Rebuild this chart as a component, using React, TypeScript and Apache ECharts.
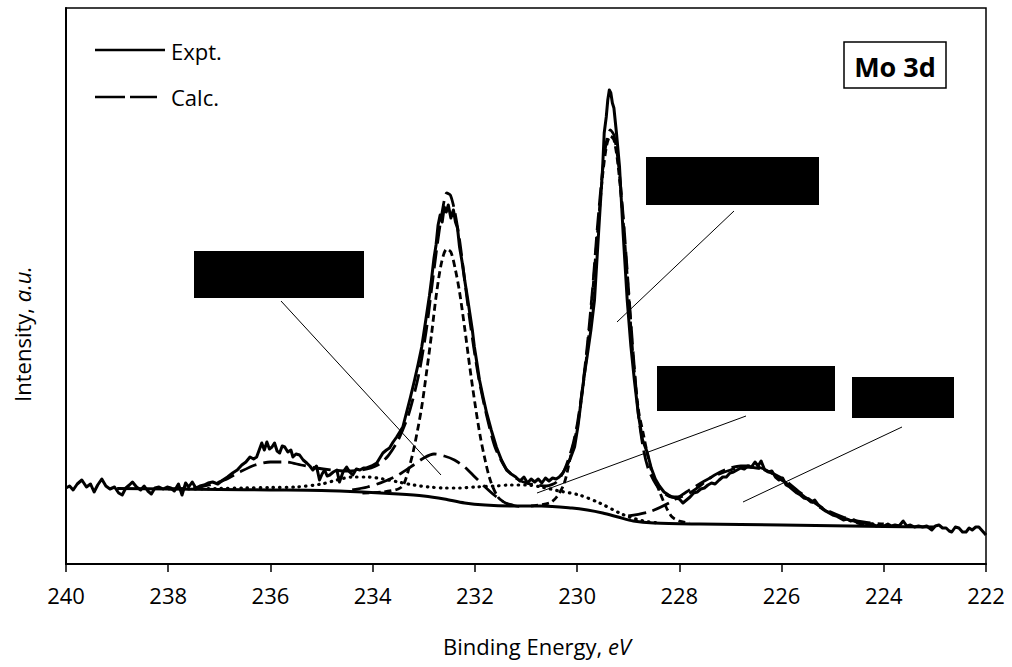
import React, { useEffect, useRef } from "react";
import * as echarts from "echarts";

// Binding energy (eV) / intensity (a.u.) pairs
const exptData: number[][] = [
  [240.0, 76], [239.93, 78], [239.86, 74], [239.78, 80], [239.69, 84], [239.6, 77], [239.52, 80], [239.45, 72],
  [239.38, 79], [239.3, 85], [239.22, 78], [239.14, 75], [239.05, 77], [238.97, 71], [238.9, 69], [238.83, 76],
  [238.76, 79], [238.7, 82], [238.62, 77], [238.54, 74], [238.47, 78], [238.4, 73], [238.33, 70], [238.26, 76],
  [238.18, 77], [238.1, 75], [238.02, 77], [237.95, 76], [237.88, 73], [237.8, 80], [237.73, 69], [237.66, 81],
  [237.6, 77], [237.53, 82], [237.46, 76], [237.38, 78], [237.3, 79], [237.22, 81], [237.13, 82], [237.03, 80],
  [236.93, 84], [236.84, 87], [236.74, 91], [236.65, 94], [236.56, 99], [236.48, 102], [236.4, 107], [236.33, 105],
  [236.27, 107], [236.17, 121], [236.12, 114], [236.07, 122], [236.02, 115], [235.97, 117], [235.92, 121], [235.87, 113],
  [235.82, 111], [235.77, 118], [235.72, 117], [235.66, 112], [235.6, 114], [235.56, 107], [235.5, 110], [235.43, 109],
  [235.36, 104], [235.29, 101], [235.23, 98], [235.17, 94], [235.1, 98], [235.04, 84], [234.99, 90], [234.94, 94],
  [234.89, 88], [234.84, 89], [234.77, 92], [234.7, 94], [234.65, 82], [234.58, 92], [234.51, 97], [234.45, 92],
  [234.39, 89], [234.32, 95], [234.25, 94], [234.18, 96], [234.12, 96], [234.02, 98], [233.92, 101], [233.86, 106],
  [233.8, 111], [233.73, 114], [233.67, 116], [233.6, 122], [233.53, 127], [233.47, 132], [233.41, 137], [233.34, 151],
  [233.26, 167], [233.18, 184], [233.11, 200], [233.04, 217], [232.99, 234], [232.94, 251], [232.89, 268], [232.85, 284],
  [232.8, 306], [232.76, 319], [232.72, 339], [232.68, 349], [232.64, 342], [232.6, 357], [232.56, 352], [232.52, 359],
  [232.47, 346], [232.42, 354], [232.38, 342], [232.34, 336], [232.3, 317], [232.25, 302], [232.2, 284], [232.15, 268],
  [232.1, 251], [232.05, 234], [232.01, 217], [231.96, 201], [231.91, 184], [231.84, 167], [231.77, 151], [231.68, 134],
  [231.58, 117], [231.48, 104], [231.38, 94], [231.29, 90], [231.2, 87], [231.12, 83], [231.04, 87], [230.97, 81],
  [230.9, 85], [230.83, 82], [230.76, 85], [230.69, 81], [230.62, 86], [230.55, 83], [230.48, 86], [230.41, 85],
  [230.35, 87], [230.28, 91], [230.21, 97], [230.13, 106], [230.05, 117], [229.98, 139], [229.92, 164], [229.86, 189],
  [229.8, 209], [229.73, 234], [229.66, 264], [229.58, 331], [229.5, 397], [229.47, 431], [229.43, 447], [229.4, 464],
  [229.37, 474], [229.34, 471], [229.31, 461], [229.28, 456], [229.23, 431], [229.17, 397], [229.1, 331], [229.02, 264],
  [228.95, 219], [228.88, 184], [228.8, 149], [228.72, 124], [228.63, 112], [228.55, 96], [228.47, 85], [228.39, 78],
  [228.3, 72], [228.21, 69], [228.14, 67], [228.07, 66], [228.0, 65], [227.93, 61], [227.86, 64], [227.79, 67],
  [227.72, 71], [227.65, 72], [227.58, 75], [227.51, 76], [227.44, 79], [227.37, 81], [227.3, 80], [227.22, 84],
  [227.15, 87], [227.08, 87], [227.01, 91], [226.94, 92], [226.87, 94], [226.8, 96], [226.73, 95], [226.66, 98],
  [226.59, 97], [226.52, 102], [226.46, 98], [226.4, 103], [226.33, 94], [226.26, 92], [226.19, 93], [226.12, 87],
  [226.05, 84], [225.98, 86], [225.91, 79], [225.84, 77], [225.77, 74], [225.7, 71], [225.63, 69], [225.56, 66],
  [225.49, 65], [225.42, 62], [225.35, 64], [225.28, 59], [225.21, 56], [225.14, 53], [225.07, 51], [225.0, 49],
  [224.93, 48], [224.86, 46], [224.79, 44], [224.72, 45], [224.65, 43], [224.58, 44], [224.51, 41], [224.44, 40],
  [224.37, 41], [224.3, 39], [224.22, 40], [224.15, 38], [224.08, 39], [224.0, 38], [223.92, 40], [223.85, 38],
  [223.78, 39], [223.7, 38], [223.62, 43], [223.55, 38], [223.48, 39], [223.4, 37], [223.32, 38], [223.24, 37],
  [223.16, 38], [223.06, 34], [222.99, 38], [222.92, 39], [222.85, 36], [222.78, 36], [222.72, 33], [222.67, 32],
  [222.6, 37], [222.53, 36], [222.46, 32], [222.39, 32], [222.33, 36], [222.27, 34], [222.2, 37], [222.14, 37],
  [222.07, 33], [222.0, 29],
];

const calcData: number[][] = [
  [238.0, 75], [237.5, 76], [237.2, 79], [236.9, 84], [236.6, 92], [236.3, 99], [236.0, 102], [235.7, 102],
  [235.4, 99], [235.1, 96], [234.8, 94], [234.5, 93], [234.2, 94], [233.9, 99], [233.7, 108], [233.5, 124],
  [233.3, 149], [233.1, 189], [232.95, 234], [232.85, 274], [232.75, 314], [232.65, 349], [232.55, 371], [232.48, 369],
  [232.4, 354], [232.3, 324], [232.2, 284], [232.1, 244], [232.0, 209], [231.9, 179], [231.75, 144], [231.6, 116],
  [231.4, 96], [231.2, 86], [231.0, 81], [230.8, 79], [230.6, 78], [230.4, 82], [230.25, 94], [230.1, 116],
  [230.0, 139], [229.9, 174], [229.8, 219], [229.7, 274], [229.6, 339], [229.5, 394], [229.42, 424], [229.35, 434],
  [229.28, 429], [229.2, 404], [229.1, 349], [229.0, 279], [228.9, 209], [228.8, 149], [228.7, 114], [228.6, 94],
  [228.45, 79], [228.3, 71], [228.15, 67], [228.0, 67], [227.8, 71], [227.6, 78], [227.4, 86], [227.2, 92],
  [227.0, 96], [226.8, 98], [226.6, 98], [226.4, 96], [226.2, 91], [226.0, 84], [225.8, 77], [225.6, 69],
  [225.4, 62], [225.2, 55], [225.0, 50], [224.8, 46], [224.6, 43], [224.4, 41], [224.2, 40],
];

const backgroundData: number[][] = [
  [239.0, 75.5], [238.0, 75], [237.0, 74.5], [236.0, 74], [235.0, 73.5], [234.2, 72], [233.5, 70], [233.0, 68],
  [232.6, 65], [232.2, 61], [231.8, 59], [231.2, 58], [230.7, 58], [230.1, 56], [229.8, 54], [229.5, 51],
  [229.2, 47], [228.9, 43], [228.5, 41], [227.6, 40], [226.0, 39], [224.0, 37.5], [223.0, 37],
];

const peakA: number[][] = [
  [234.2, 71], [233.8, 72], [233.5, 75], [233.4, 79], [233.3, 94], [233.2, 114], [233.05, 154], [232.94, 194],
  [232.85, 229], [232.75, 271], [232.65, 302], [232.55, 315], [232.47, 312], [232.38, 294], [232.3, 272], [232.2, 236],
  [232.1, 197], [232.0, 161], [231.9, 129], [231.8, 104], [231.7, 84], [231.55, 67], [231.4, 61], [231.2, 58],
];

const peakB: number[][] = [
  [230.9, 58], [230.54, 61], [230.4, 67], [230.25, 81], [230.11, 112], [230.0, 136], [229.9, 172], [229.8, 214],
  [229.7, 269], [229.6, 332], [229.5, 389], [229.42, 419], [229.35, 428], [229.28, 424], [229.2, 399], [229.1, 344],
  [229.0, 274], [228.9, 204], [228.8, 154], [228.7, 129], [228.62, 109], [228.53, 91], [228.4, 74], [228.26, 57],
  [228.14, 47], [228.0, 43], [227.8, 41],
];

const broadC: number[][] = [
  [234.4, 74], [234.1, 77], [233.8, 82], [233.5, 89], [233.2, 99], [233.0, 106], [232.8, 110], [232.6, 108],
  [232.4, 104], [232.2, 97], [232.0, 87], [231.8, 77], [231.6, 68], [231.4, 61], [231.2, 58], [231.0, 57],
];

const broadD: number[][] = [
  [229.0, 48], [228.6, 52], [228.2, 61], [227.8, 74], [227.4, 86], [227.0, 94], [226.7, 97], [226.4, 95],
  [226.0, 86], [225.6, 70], [225.2, 56], [224.8, 47], [224.4, 42], [224.0, 40],
];

const dottedE: number[][] = [
  [237.6, 75], [237.0, 75.5], [236.5, 76], [236.0, 76.5], [235.5, 77], [235.0, 80], [234.7, 84], [234.4, 87],
  [234.1, 87], [233.8, 85], [233.5, 82], [233.2, 79], [232.9, 77], [232.6, 76], [232.3, 76], [232.0, 77],
  [231.6, 78], [231.3, 79], [231.0, 79], [230.7, 77], [230.35, 73], [229.96, 69], [229.56, 61], [229.17, 51],
  [228.98, 47], [228.7, 43], [228.4, 41],
];

const xMin = 222;
const xMax = 240;
const xInterval = 2;
const legendLabels = ["Expt.", "Calc."];
const panelLabel = "Mo 3d";

const FONT = "'Open Sans', 'Liberation Sans', sans-serif";

export default function App() {
  const ref = useRef<HTMLDivElement>(null);
  useEffect(() => {
    if (!ref.current) return;
    const chart = echarts.init(ref.current, undefined, { renderer: "svg" });
    const black = "#000";
    const mk = (name: string, data: number[][], type: any, width: number, z: number, smooth: number | boolean, cap: any = "butt") => ({
      name,
      type: "line",
      data,
      showSymbol: false,
      symbol: "none",
      smooth,
      z,
      lineStyle: { color: black, width, type, cap, join: "round" },
      silent: true,
    });
    chart.setOption({
      animation: false,
      textStyle: { fontFamily: FONT },
      grid: { left: 66, right: 26, top: 8, bottom: 103, show: true, borderColor: black, borderWidth: 1.5, backgroundColor: "transparent" },
      xAxis: {
        type: "value",
        min: xMin,
        max: xMax,
        interval: xInterval,
        inverse: true,
        axisLine: { show: true, lineStyle: { color: black, width: 2 } },
        axisTick: { show: true, inside: false, length: 8, lineStyle: { color: black, width: 1.5 } },
        axisLabel: { color: black, fontSize: 22, fontFamily: FONT, margin: 20 },
        splitLine: { show: false },
      },
      yAxis: {
        type: "value",
        min: 0,
        max: 556,
        axisLine: { show: true, lineStyle: { color: black, width: 2 } },
        axisTick: { show: false },
        axisLabel: { show: false },
        splitLine: { show: false },
      },
      series: [
        mk("Background", backgroundData, "solid", 3, 2, 0.3),
        mk("Peak A", peakA, [7, 4], 2.8, 3, 0.3),
        mk("Peak B", peakB, [7, 4], 2.8, 3, 0.3),
        mk("Broad C", broadC, [18, 7], 2.8, 3, 0.3),
        mk("Broad D", broadD, [18, 7], 2.8, 3, 0.3),
        mk("Dotted", dottedE, [0.5, 6], 3.2, 3, 0.3, "round"),
        mk("Calc.", calcData, [18, 7], 2.8, 4, 0.25),
        mk("Expt.", exptData, "solid", 3, 5, false),
      ],
      graphic: [
        // legend
        { type: "line", shape: { x1: 95, y1: 50, x2: 165, y2: 50 }, style: { stroke: black, lineWidth: 2.5 }, z: 10 },
        { type: "text", x: 171, y: 51, style: { text: legendLabels[0], font: `22px ${FONT}`, fill: black, verticalAlign: "middle" }, z: 10 },
        { type: "line", shape: { x1: 95, y1: 97, x2: 157, y2: 97 }, style: { stroke: black, lineWidth: 2.5, lineDash: [30, 5] }, z: 10 },
        { type: "text", x: 171, y: 97, style: { text: legendLabels[1], font: `22px ${FONT}`, fill: black, verticalAlign: "middle" }, z: 10 },
        // panel label
        { type: "rect", shape: { x: 844, y: 42, width: 102, height: 46 }, style: { fill: "#fff", stroke: black, lineWidth: 1.5 }, z: 10 },
        { type: "text", x: 895, y: 66, style: { text: panelLabel, font: `bold 27px ${FONT}`, fill: black, align: "center", verticalAlign: "middle" }, z: 11 },
        // redacted label boxes
        { type: "rect", shape: { x: 194, y: 251, width: 170, height: 47 }, style: { fill: black }, z: 10 },
        { type: "rect", shape: { x: 646, y: 157, width: 173, height: 48 }, style: { fill: black }, z: 10 },
        { type: "rect", shape: { x: 657, y: 366, width: 178, height: 45 }, style: { fill: black }, z: 10 },
        { type: "rect", shape: { x: 852, y: 377, width: 102, height: 41 }, style: { fill: black }, z: 10 },
        // leader lines
        { type: "line", shape: { x1: 281, y1: 301, x2: 441, y2: 475 }, style: { stroke: black, lineWidth: 1 }, z: 10 },
        { type: "line", shape: { x1: 734, y1: 211, x2: 617, y2: 322 }, style: { stroke: black, lineWidth: 1 }, z: 10 },
        { type: "line", shape: { x1: 746, y1: 416, x2: 537, y2: 493 }, style: { stroke: black, lineWidth: 1 }, z: 10 },
        { type: "line", shape: { x1: 902, y1: 427, x2: 743, y2: 502 }, style: { stroke: black, lineWidth: 1 }, z: 10 },
        // axis titles
        {
          type: "text", x: 537, y: 646,
          style: {
            text: "Binding Energy, {i|eV}",
            font: `22px ${FONT}`, fill: black, align: "center", verticalAlign: "middle",
            rich: { i: { fontStyle: "italic", fontSize: 22, fontFamily: FONT, fill: black } },
          },
        },
        {
          type: "text", x: 22, y: 334, rotation: Math.PI / 2,
          style: {
            text: "Intensity, {i|a.u.}",
            font: `22px ${FONT}`, fill: black, align: "center", verticalAlign: "middle",
            rich: { i: { fontStyle: "italic", fontSize: 22, fontFamily: FONT, fill: black } },
          },
        },
      ],
    });
    return () => chart.dispose();
  }, []);
  return <div ref={ref} style={{ position: "absolute", left: 0, top: 0, width: 1012, height: 667, background: "#fff" }} />;
}
